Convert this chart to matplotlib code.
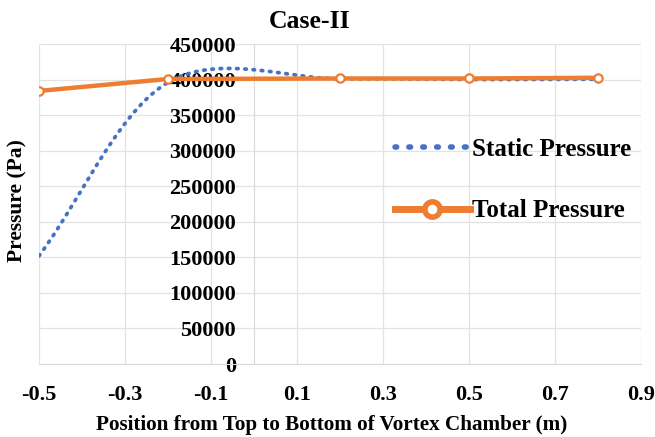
import matplotlib
matplotlib.use("Agg")
import matplotlib.pyplot as plt
from matplotlib.lines import Line2D
import numpy as np

plt.rcParams['font.family'] = ['Liberation Serif', 'DejaVu Serif']
plt.rcParams['font.weight'] = 'bold'

# data
position = [-0.5, -0.2, 0.2, 0.5, 0.8]
static_pressure = [152000, 396000, 401000, 400000, 400500]
total_pressure = [384000, 400800, 401500, 401500, 402500]

x_ticks = [-0.5, -0.3, -0.1, 0.1, 0.3, 0.5, 0.7, 0.9]
y_ticks = list(range(0, 450001, 50000))

BLUE = '#4472C4'
ORANGE = '#ED7D31'


def excel_smooth(xs, ys, n=60):
    # Bezier smoothing in the style of spreadsheet "smoothed line"
    pts = np.column_stack([xs, ys]).astype(float)
    ext = np.vstack([2 * pts[0] - pts[1], pts, 2 * pts[-1] - pts[-2]])
    out = []
    for i in range(len(pts) - 1):
        p0, p1, p2, p3 = ext[i], ext[i + 1], ext[i + 2], ext[i + 3]
        c1 = p1 + (p2 - p0) / 6.0
        c2 = p2 - (p3 - p1) / 6.0
        t = np.linspace(0, 1, n)[:, None]
        seg = ((1 - t) ** 3) * p1 + 3 * ((1 - t) ** 2) * t * c1 \
            + 3 * (1 - t) * t ** 2 * c2 + t ** 3 * p2
        out.append(seg if i == 0 else seg[1:])
    out = np.vstack(out)
    return out[:, 0], out[:, 1]


fig = plt.figure(figsize=(6.55, 4.37), dpi=100)
ax = fig.add_axes([39 / 655, 73 / 437, 602 / 655, 320 / 437])

sx, sy = excel_smooth(position, static_pressure)
ax.plot(sx, sy, color=BLUE, lw=2.7, linestyle=(0, (0.4, 1.8)),
        dash_capstyle='round', zorder=3)
ax.plot(position, total_pressure, color=ORANGE, lw=3.2, marker='o',
        markersize=6, markerfacecolor='white', markeredgecolor=ORANGE,
        markeredgewidth=1.6, zorder=4)

ax.set_xlim(-0.5, 0.9)
ax.set_ylim(0, 450000)
ax.set_xticks(x_ticks)
ax.set_xticklabels([f"{v:.1f}" for v in x_ticks])
ax.set_yticks(y_ticks)
ax.set_yticklabels([str(v) for v in y_ticks])
ax.grid(True, color='#E3E3E3', lw=0.9)
ax.set_axisbelow(True)

for s in ['top', 'right']:
    ax.spines[s].set_visible(False)
ax.spines['left'].set_position(('data', 0))
ax.spines['left'].set_color('#D9D9D9')
ax.spines['bottom'].set_color('#D9D9D9')
ax.tick_params(axis='both', length=0, labelsize=16)
ax.tick_params(axis='x', pad=15)
ax.tick_params(axis='y', pad=13)

fig.text(0.027, 0.542, 'Pressure (Pa)', rotation=90, fontsize=15.5,
         fontweight='bold', ha='center', va='center')
fig.text(0.507, 0.027, 'Position from Top to Bottom of Vortex Chamber (m)',
         fontsize=15.2, fontweight='bold', ha='center', va='center')
fig.text(0.473, 0.951, 'Case-II', fontsize=18.5, fontweight='bold',
         ha='center', va='center')

handles = [
    Line2D([], [], color=BLUE, lw=4, linestyle=(0, (0.3, 2.2)),
           dash_capstyle='round'),
    Line2D([], [], color=ORANGE, lw=5, marker='o', markersize=11,
           markerfacecolor='white', markeredgecolor=ORANGE, markeredgewidth=4),
]
leg = fig.legend(handles, ['Static Pressure', 'Total Pressure'],
                 loc='center left', bbox_to_anchor=(0.603, 0.588),
                 frameon=False, fontsize=18, handlelength=3.0,
                 handletextpad=0.1, labelspacing=1.55, borderpad=0,
                 borderaxespad=0)
for t in leg.get_texts():
    t.set_fontweight('bold')

fig.savefig('out.png', dpi=100, facecolor='white')
